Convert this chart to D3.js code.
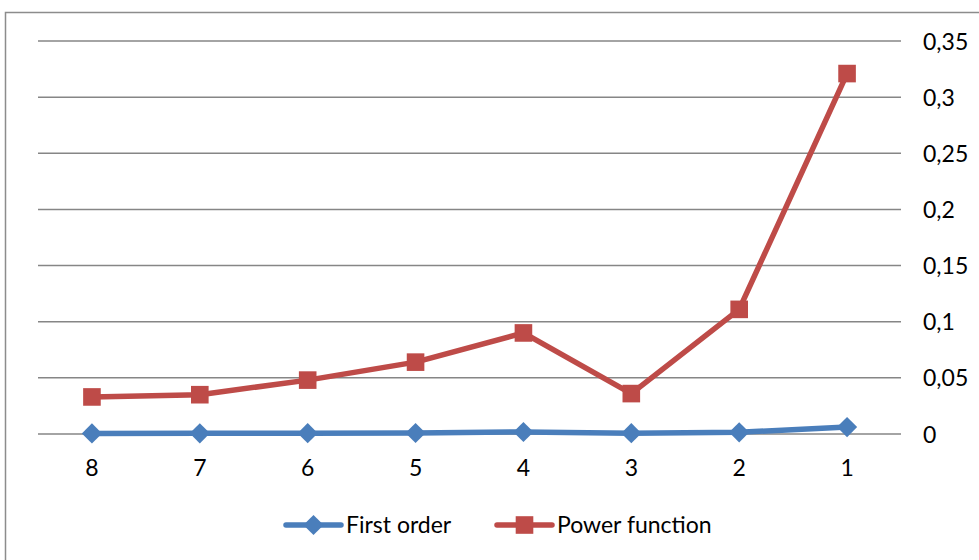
<!DOCTYPE html>
<html>
<head>
<meta charset="utf-8">
<script src="https://d3js.org/d3.v7.min.js"></script>
<style>
  body { margin: 0; background: #fff; }
  text { font-family: Lato, "Open Sans", sans-serif; fill: #000; }
</style>
</head>
<body>
<div id="chart"></div>
<script>
// chart data
var categories = ["8", "7", "6", "5", "4", "3", "2", "1"];
var firstOrder = [0.0005, 0.0006, 0.0007, 0.0009, 0.0018, 0.0007, 0.0015, 0.0062];
var powerFunction = [0.033, 0.035, 0.048, 0.064, 0.090, 0.036, 0.111, 0.321];
var yTicks = [0, 0.05, 0.1, 0.15, 0.2, 0.25, 0.3, 0.35];
var seriesNames = ["First order", "Power function"];

var W = 979, H = 560;
var margin = {top: 41, right: 78, bottom: 126, left: 38},
    width = W - margin.left - margin.right,
    height = H - margin.top - margin.bottom;

var svg = d3.select("#chart")
  .append("svg")
    .attr("width", W)
    .attr("height", H);

// outer frame
svg.append("rect")
  .attr("x", 5.5).attr("y", 12.5)
  .attr("width", W + 10).attr("height", H + 10)
  .attr("fill", "none")
  .attr("stroke", "#8c8c8c")
  .attr("stroke-width", 1.5);

var g = svg.append("g")
  .attr("transform", "translate(" + margin.left + "," + margin.top + ")");

var x = d3.scaleBand()
  .domain(categories)
  .range([0, width]);

var y = d3.scaleLinear()
  .domain([0, 0.35])
  .range([height, 0]);

var locale = d3.formatLocale({decimal: ",", thousands: ".", grouping: [3], currency: ["", ""]});
var fmt = function(d) { return locale.format("~g")(+d.toFixed(2)); };

// gridlines
g.append("g")
  .selectAll("line")
  .data(yTicks)
  .enter().append("line")
    .attr("x1", 0).attr("x2", width)
    .attr("y1", function(d) { return y(d); })
    .attr("y2", function(d) { return y(d); })
    .attr("stroke", "#868686")
    .attr("stroke-width", 1.5);

// y axis on the right
var yAxis = g.append("g")
  .attr("transform", "translate(" + width + ",0)")
  .call(d3.axisRight(y).tickValues(yTicks).tickFormat(fmt).tickSize(0).tickPadding(22));
yAxis.select(".domain").remove();
yAxis.selectAll("text").style("font-size", "23px").attr("dy", "0.35em");

// x axis
var xAxis = g.append("g")
  .attr("transform", "translate(0," + height + ")")
  .call(d3.axisBottom(x).tickSize(0).tickPadding(26));
xAxis.select(".domain").remove();
xAxis.selectAll("text").style("font-size", "23px");

var colors = ["#4a7ebb", "#be4b48"];
var allSeries = [firstOrder, powerFunction];

var line = d3.line()
  .x(function(d, i) { return x(categories[i]) + x.bandwidth() / 2; })
  .y(function(d) { return y(d); });

allSeries.forEach(function(vals, s) {
  g.append("path")
    .datum(vals)
    .attr("fill", "none")
    .attr("stroke", colors[s])
    .attr("stroke-width", 5.5)
    .attr("stroke-linejoin", "round")
    .attr("d", line);

  var sym = s === 0 ? d3.symbolDiamond2 : d3.symbolSquare;
  var size = s === 0 ? 260 : 310;
  g.append("g")
    .selectAll("path")
    .data(vals)
    .enter().append("path")
      .attr("transform", function(d, i) {
        return "translate(" + (x(categories[i]) + x.bandwidth() / 2) + "," + y(d) + ")";
      })
      .attr("d", d3.symbol().type(sym).size(size))
      .attr("fill", colors[s]);
});

// legend
var legendX = [286, 497];
var legendY = 525;
var legend = svg.append("g");
seriesNames.forEach(function(name, s) {
  var lg = legend.append("g").attr("transform", "translate(" + legendX[s] + "," + legendY + ")");
  lg.append("line")
    .attr("x1", 0).attr("x2", 55)
    .attr("y1", 0).attr("y2", 0)
    .attr("stroke", colors[s])
    .attr("stroke-width", 5.5)
    .attr("stroke-linecap", "round");
  lg.append("path")
    .attr("transform", "translate(27.5,0)")
    .attr("d", d3.symbol().type(s === 0 ? d3.symbolDiamond2 : d3.symbolSquare).size(s === 0 ? 260 : 310))
    .attr("fill", colors[s]);
  lg.append("text")
    .attr("x", 60)
    .attr("dy", "0.35em")
    .style("font-size", "23px")
    .text(name);
});
</script>
</body>
</html>
